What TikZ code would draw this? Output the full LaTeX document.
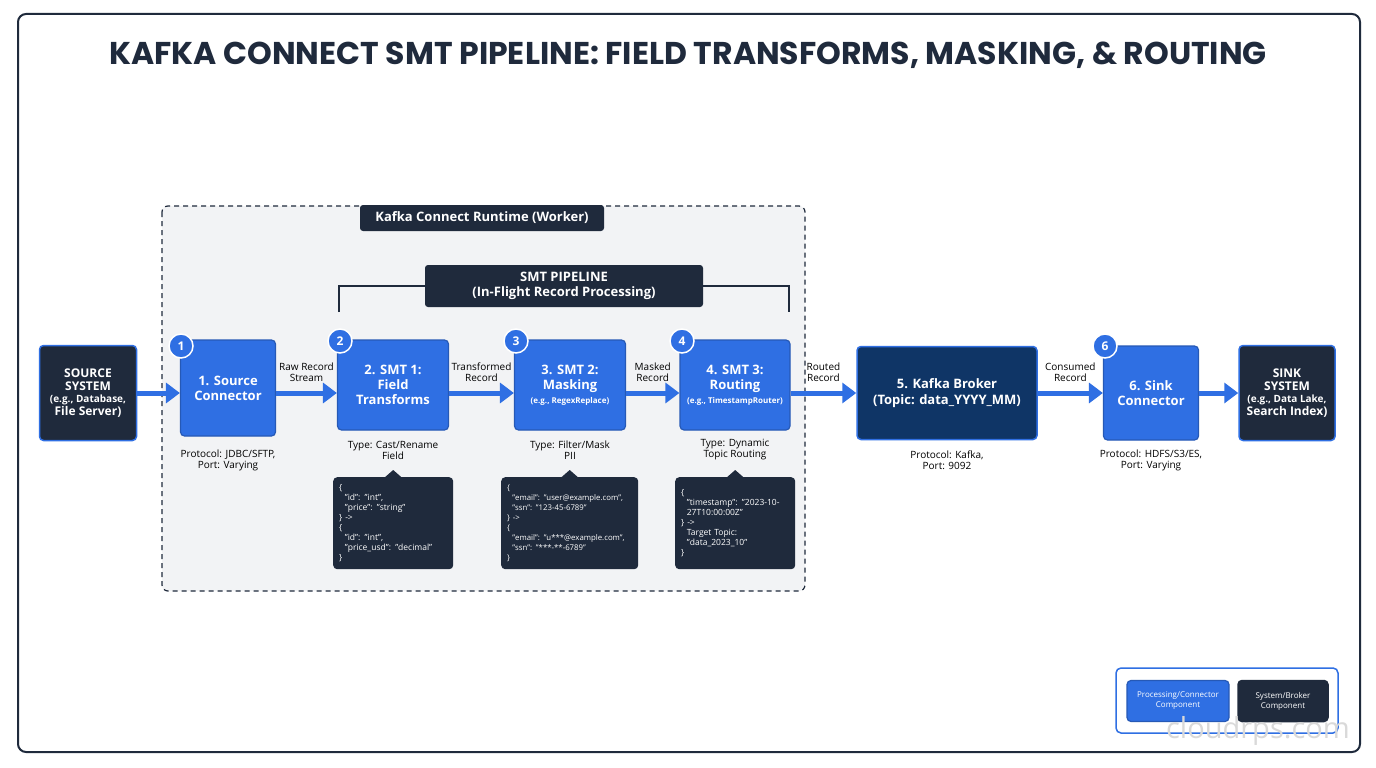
\documentclass[tikz,border=0pt]{standalone}
\usepackage{fontspec}
\setmainfont{Open Sans}
\newfontfamily\titlefont{Poppins}
\usetikzlibrary{arrows.meta}
\definecolor{cblue}{HTML}{2F6FE3}
\definecolor{cnavy}{HTML}{1F2A3C}
\definecolor{cbroker}{HTML}{0F3566}
\definecolor{cgray}{HTML}{F2F3F5}
\begin{document}
\begin{tikzpicture}[x=1pt,y=-1pt,
  proc/.style={draw=cblue!80!black,line width=1.2pt,fill=cblue,rounded corners=4pt,text=white,font=\fontsize{13}{15}\selectfont\bfseries,align=center,inner sep=0pt},
  sys/.style={draw=cblue,line width=1.5pt,fill=cnavy,rounded corners=4pt,text=white,font=\fontsize{12}{13}\selectfont\bfseries,align=center,inner sep=0pt},
  badge/.style={circle,fill=cblue,draw=white,line width=1.5pt,text=white,font=\fontsize{12}{12}\selectfont\bfseries,minimum size=24pt,inner sep=0pt},
  flow/.style={cblue,line width=5pt,-{Triangle[length=14pt,width=20pt]}},
  lbl/.style={font=\fontsize{10}{11}\selectfont,align=center,text=black},
  code/.style={fill=cnavy,rounded corners=4pt,text=white,font=\fontsize{8.5}{10}\selectfont,align=left,inner sep=6pt,anchor=north west,text width=#1},
  tag/.style={fill=cnavy,rounded corners=3pt,text=white,font=\fontsize{13}{15}\selectfont\bfseries,align=center}]
  % frame
  \useasboundingbox (0,0) rectangle (1376,768);
  \fill[white] (0,0) rectangle (1376,768);
  \draw[cnavy,line width=2pt,rounded corners=8pt] (18,14) rectangle (1360,752);
  \node[font=\titlefont\fontsize{31.5}{34}\selectfont\bfseries,text=cnavy] (title) at (688,55) {KAFKA CONNECT SMT PIPELINE: FIELD TRANSFORMS, MASKING, \& ROUTING};
  % runtime
  \draw[cnavy,line width=1.2pt,dash pattern=on 5pt off 4pt,fill=cgray,rounded corners=6pt] (162,206) rectangle (805,591);
  \node[tag,minimum width=244pt,minimum height=26pt,font=\fontsize{13}{15}\selectfont\bfseries] (rt) at (482,218) {Kafka Connect Runtime (Worker)};
  \draw[cnavy,line width=1.2pt] (339,312) -- (339,286) -- (789,286) -- (789,312);
  \node[tag,minimum width=278pt,minimum height=42pt] (smt) at (564,286) {SMT PIPELINE\\(In-Flight Record Processing)};
  % nodes
  \node[sys,minimum width=97pt,minimum height=95pt] (src) at (88,393) {SOURCE\\SYSTEM\\[-1pt]\fontsize{10}{12}\selectfont(e.g., Database,\\File Server)};
  \node[proc,minimum width=95pt,minimum height=96pt] (n1) at (228,388) {1. Source\\Connector};
  \node[proc,minimum width=111pt,minimum height=90pt] (n2) at (393,385) {2. SMT 1:\\Field\\Transforms};
  \node[proc,minimum width=111pt,minimum height=90pt] (n3) at (570,385) {3. SMT 2:\\Masking\\[-1pt]\fontsize{8}{9}\selectfont(e.g., RegexReplace)};
  \node[proc,minimum width=110pt,minimum height=90pt] (n4) at (735,385) {4. SMT 3:\\Routing\\[-1pt]\fontsize{8}{9}\selectfont(e.g., TimestampRouter)};
  \node[sys,fill=cbroker,minimum width=180pt,minimum height=93pt,font=\fontsize{13}{16}\selectfont\bfseries] (brk) at (947,393) {5. Kafka Broker\\(Topic: data\_YYYY\_MM)};
  \node[proc,minimum width=95pt,minimum height=94pt] (n6) at (1151,393) {6. Sink\\Connector};
  \node[sys,minimum width=96pt,minimum height=95pt] (snk) at (1287,393) {SINK\\SYSTEM\\[-1pt]\fontsize{10}{12}\selectfont(e.g., Data Lake,\\Search Index)};
  % badges
  \node[badge] (b1) at (181,346) {1};
  \node[badge] (b2) at (340,341) {2};
  \node[badge] (b3) at (516,341) {3};
  \node[badge] (b4) at (682,341) {4};
  \node[badge] (b6) at (1105,346) {6};
  % flow
  \draw[flow] (src.east |- 0,393) -- (n1.west |- 0,393);
  \draw[flow] (n1.east |- 0,393) -- node[lbl,above=6pt] {Raw Record\\Stream} (n2.west |- 0,393);
  \draw[flow] (n2.east |- 0,393) -- node[lbl,above=6pt] {Transformed\\Record} (n3.west |- 0,393);
  \draw[flow] (n3.east |- 0,393) -- node[lbl,above=6pt] {Masked\\Record} (n4.west |- 0,393);
  \draw[flow] (n4.east |- 0,393) -- node[lbl,above=6pt] {Routed\\Record} (brk);
  \draw[flow] (brk) -- node[lbl,above=6pt] {Consumed\\Record} (n6);
  \draw[flow] (n6) -- (snk);
  % labels below
  \node[lbl] (p1) at (228,460) {Protocol: JDBC/SFTP,\\Port: Varying};
  \node[lbl] (t2) at (393,450) {Type: Cast/Rename\\Field};
  \node[lbl] (t3) at (570,450) {Type: Filter/Mask\\PII};
  \node[lbl] (t4) at (735,450) {Type: Dynamic\\Topic Routing};
  \node[lbl] (p5) at (947,460) {Protocol: Kafka,\\Port: 9092};
  \node[lbl] (p6) at (1151,460) {Protocol: HDFS/S3/ES,\\Port: Varying};
  % code snippets
  \node[code=108pt,minimum height=92pt] (c2) at (333,477) {\{\\ \ \ "id": "int",\\ \ \ "price": "string"\\\} ->\\\{\\ \ \ "id": "int",\\ \ \ "price\_usd": "decimal"\\\}};
  \node[code=125pt,minimum height=92pt,font=\fontsize{7.8}{10}\selectfont] (c3) at (501,477) {\{\\ \ \ "email": "user@example.com",\\ \ \ "ssn": "123-45-6789"\\\} ->\\\{\\ \ \ "email": "u***@example.com",\\ \ \ "ssn": "***-**-6789"\\\}};
  \node[code=108pt,minimum height=92pt] (c4) at (675,477) {\{\\ \ \ "timestamp": "2023-10-\\ \ \ 27T10:00:00Z"\\\} ->\\ \ \ Target Topic:\\ \ \ "data\_2023\_10"\\\}};
  \fill[cnavy] ([xshift=-8pt]c2.north) -- ([yshift=7pt]c2.north) -- ([xshift=8pt]c2.north) -- cycle;
  \fill[cnavy] ([xshift=-8pt]c3.north) -- ([yshift=7pt]c3.north) -- ([xshift=8pt]c3.north) -- cycle;
  \fill[cnavy] ([xshift=-8pt]c4.north) -- ([yshift=7pt]c4.north) -- ([xshift=8pt]c4.north) -- cycle;
  % legend
  \draw[cblue,line width=1.5pt,fill=white,rounded corners=5pt] (1116,668) rectangle (1338,733);
  \node[proc,minimum width=102pt,minimum height=41pt,font=\fontsize{8}{10}\selectfont] (lg1) at (1178,701) {Processing/Connector\\Component};
  \node[sys,draw=cnavy,minimum width=90pt,minimum height=41pt,font=\fontsize{8}{10}\selectfont] (lg2) at (1283,701) {System/Broker\\Component};
  \node[text=black!15,font=\fontsize{29}{29}\selectfont] (wm) at (1258,731) {cloudrps.com};
\end{tikzpicture}
\end{document}
